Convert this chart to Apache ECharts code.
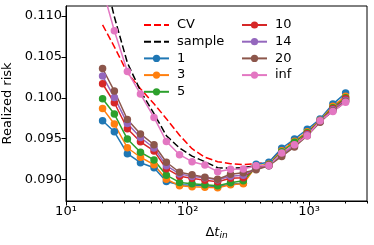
<!DOCTYPE html>
<html>
<head>
<meta charset="utf-8">
<script src="https://cdn.jsdelivr.net/npm/echarts@6/dist/echarts.min.js"></script>
<style>
html,body{margin:0;padding:0;background:#fff;}
#c{width:374px;height:245px;}
</style>
</head>
<body>
<div id="c"></div>
<script>
const dt = [20, 25, 32, 41, 53, 67, 86, 109, 139, 177, 226, 288, 367, 467, 596, 759, 967, 1233, 1571, 2000];
const cv = [0.10890, 0.10622, 0.10305, 0.10110, 0.09927, 0.09744, 0.09543, 0.09378, 0.09274, 0.09220, 0.09195, 0.09183, 0.09195, 0.09213, 0.09366, 0.09476, 0.09573, 0.09732, 0.09896, 0.10018];
const sample = [0.11585, 0.10988, 0.10427, 0.10085, 0.09805, 0.09537, 0.09387, 0.09287, 0.09220, 0.09146, 0.09140, 0.09146, 0.09171, 0.09177, 0.09323, 0.09427, 0.09537, 0.09720, 0.09835, 0.09951];
const s1 = [0.09720, 0.09585, 0.09317, 0.09207, 0.09146, 0.08979, 0.08939, 0.08933, 0.08927, 0.08915, 0.08945, 0.08957, 0.09189, 0.09213, 0.09384, 0.09496, 0.09616, 0.09740, 0.09923, 0.10057];
const s3 = [0.09870, 0.09679, 0.09390, 0.09274, 0.09183, 0.09006, 0.08927, 0.08915, 0.08909, 0.08902, 0.08939, 0.08951, 0.09165, 0.09189, 0.09354, 0.09470, 0.09585, 0.09726, 0.09896, 0.10018];
const s5 = [0.09988, 0.09801, 0.09496, 0.09335, 0.09241, 0.09055, 0.08967, 0.08951, 0.08939, 0.08927, 0.08963, 0.08988, 0.09159, 0.09183, 0.09341, 0.09457, 0.09573, 0.09720, 0.09878, 0.10000];
const s10 = [0.10171, 0.09939, 0.09622, 0.09463, 0.09351, 0.09134, 0.09043, 0.09018, 0.08994, 0.08976, 0.09018, 0.09024, 0.09146, 0.09177, 0.09317, 0.09427, 0.09561, 0.09713, 0.09866, 0.09988];
const s14 = [0.10265, 0.10004, 0.09687, 0.09515, 0.09387, 0.09171, 0.09071, 0.09040, 0.09024, 0.09000, 0.09043, 0.09055, 0.09134, 0.09171, 0.09299, 0.09409, 0.09549, 0.09707, 0.09854, 0.09970];
const s20 = [0.10357, 0.10082, 0.09734, 0.09559, 0.09427, 0.09213, 0.09091, 0.09061, 0.09030, 0.09006, 0.09067, 0.09085, 0.09122, 0.09171, 0.09284, 0.09399, 0.09537, 0.09701, 0.09841, 0.09957];
const sInf = [0.11329, 0.10817, 0.10321, 0.10045, 0.09760, 0.09467, 0.09305, 0.09220, 0.09179, 0.09098, 0.09127, 0.09130, 0.09171, 0.09174, 0.09326, 0.09427, 0.09537, 0.09720, 0.09833, 0.09945];

const yTicks = [0.090, 0.095, 0.100, 0.105, 0.110];
const xMajor = [10, 100, 1000];
const xMinor = [20, 30, 40, 50, 60, 70, 80, 90, 200, 300, 400, 500, 600, 700, 800, 900, 2000, 3000];
const supers = {1: '\u00B9', 2: '\u00B2', 3: '\u00B3'};

const FONT = 'DejaVu Sans';
const pairs = arr => dt.map((x, i) => [x, arr[i]]);

function markerSeries(name, arr, color) {
  return {
    name, type: 'line', data: pairs(arr), xAxisIndex: 0,
    symbol: 'circle', symbolSize: 7.5, showSymbol: true,
    lineStyle: {color, width: 1.5},
    itemStyle: {color, borderWidth: 0},
    emphasis: {disabled: true}, clip: true
  };
}
function dashSeries(name, arr, color) {
  return {
    name, type: 'line', data: pairs(arr), xAxisIndex: 0,
    symbol: 'none', showSymbol: false,
    lineStyle: {color, width: 1.5, type: [7, 3]},
    itemStyle: {color},
    emphasis: {disabled: true}, clip: true
  };
}

const chart = echarts.init(document.getElementById('c'), null, {renderer: 'canvas'});
const legendCommon = {
  orient: 'vertical', itemWidth: 25, itemHeight: 9, itemGap: 3.7,
  textStyle: {fontFamily: FONT, fontSize: 13, color: '#000', padding: [0, 0, 0, 3]},
  selectedMode: false, backgroundColor: 'transparent'
};
const noSym = {opacity: 0};
chart.setOption({
  animation: false,
  backgroundColor: '#fff',
  grid: {left: 66, top: 6, right: 7, bottom: 44, show: true, borderColor: '#000', borderWidth: 1,
    backgroundColor: 'transparent', containLabel: false, outerBoundsMode: 'none'},
  legend: [
    Object.assign({}, legendCommon, {data: [{name: 'CV', itemStyle: noSym}, {name: 'sample', itemStyle: noSym}, '1', '3', '5'], left: 138, top: 13.5}),
    Object.assign({}, legendCommon, {data: ['10', '14', '20', 'inf'], left: 236, top: 13.5})
  ],
  xAxis: [
    {
      type: 'log', logBase: 10, min: 10, max: 3000, position: 'bottom',
      name: '{a|\u0394}{b|t}{c|in}', nameLocation: 'middle', nameGap: 24,
      nameTextStyle: {
        color: '#000', fontFamily: FONT, fontSize: 13,
        rich: {
          a: {fontFamily: FONT, fontSize: 13, color: '#000'},
          b: {fontFamily: FONT, fontSize: 13, fontStyle: 'italic', color: '#000'},
          c: {fontFamily: FONT, fontSize: 9, fontStyle: 'italic', color: '#000', padding: [6, 0, 0, 0]}
        }
      },
      axisLine: {show: true, lineStyle: {color: '#000', width: 1}},
      axisTick: {show: true, customValues: xMajor, length: 4.5, lineStyle: {color: '#000', width: 1}},
      axisLabel: {
        show: true, customValues: xMajor, margin: 4, color: '#000', fontFamily: FONT, fontSize: 13,
        formatter: v => { const e = Math.round(Math.log10(v)); return '10' + supers[e]; }
      },
      splitLine: {show: false}, minorTick: {show: false}
    },
    {
      type: 'log', logBase: 10, min: 10, max: 3000, position: 'bottom',
      axisLine: {show: false},
      axisTick: {show: true, customValues: xMinor, length: 2.5, lineStyle: {color: '#000', width: 1}},
      axisLabel: {show: false},
      splitLine: {show: false}
    }
  ],
  yAxis: {
    type: 'value', min: 0.0874, max: 0.1112,
    name: 'Realized risk', nameLocation: 'middle', nameGap: 37, nameRotate: 90,
    nameTextStyle: {color: '#000', fontFamily: FONT, fontSize: 13},
    axisLine: {show: true, lineStyle: {color: '#000', width: 1}},
    axisTick: {show: true, customValues: yTicks, length: 4.5, lineStyle: {color: '#000', width: 1}},
    axisLabel: {show: true, customValues: yTicks, margin: 4, color: '#000', fontFamily: FONT, fontSize: 13,
      formatter: v => v.toFixed(3)},
    splitLine: {show: false}
  },
  series: [
    dashSeries('CV', cv, '#ff0000'),
    dashSeries('sample', sample, '#000000'),
    markerSeries('1', s1, '#1f77b4'),
    markerSeries('3', s3, '#ff7f0e'),
    markerSeries('5', s5, '#2ca02c'),
    markerSeries('10', s10, '#d62728'),
    markerSeries('14', s14, '#9467bd'),
    markerSeries('20', s20, '#8c564b'),
    markerSeries('inf', sInf, '#e377c2')
  ]
});
</script>
</body>
</html>
